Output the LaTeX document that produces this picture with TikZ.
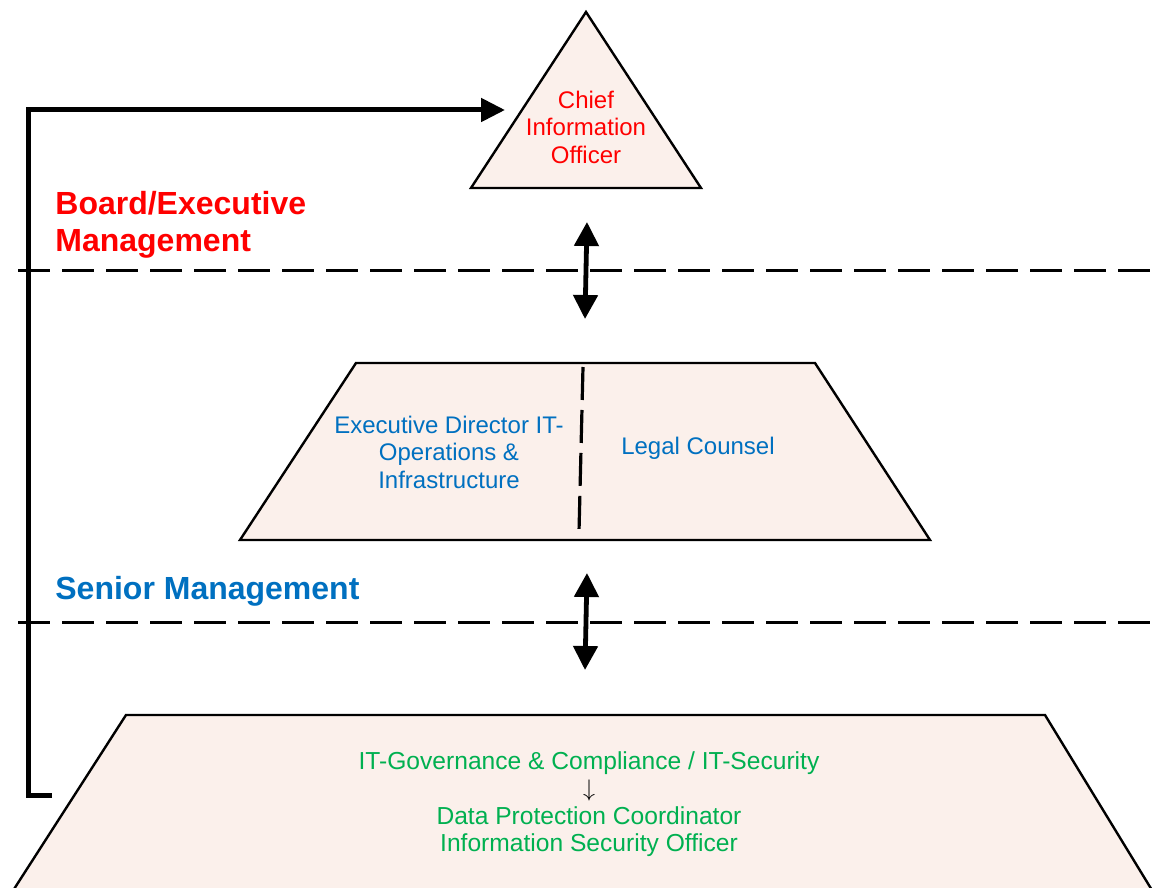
\documentclass[tikz,border=0pt]{standalone}
\usepackage{fontspec}
\setmainfont{Liberation Sans}
\usetikzlibrary{arrows.meta}

\definecolor{boxfill}{RGB}{251,240,235}
\definecolor{boardred}{RGB}{255,0,0}
\definecolor{seniorblue}{RGB}{0,112,192}
\definecolor{staffgreen}{RGB}{0,176,80}

\tikzset{
  tier/.style={draw=black, fill=boxfill, line width=1.2pt, line join=miter},
  sep_line/.style={draw=black, line width=1.5pt, dash pattern=on 16pt off 6pt},
  divider/.style={draw=black, line width=1.6pt, dash pattern=on 16.5pt off 5pt},
  both_way/.style={{Triangle[length=12pt,width=12pt]}-{Triangle[length=12pt,width=12pt]}, line width=2.4pt},
  feedback/.style={-{Triangle[length=12pt,width=11.5pt]}, line width=2.5pt, line join=miter},
  txt/.style={align=center, inner sep=0pt, font=\fontsize{12}{13.75}\selectfont},
  tier_name/.style={anchor=west, align=left, inner sep=0pt, font=\fontsize{16}{18.5}\selectfont\bfseries},
}

\begin{document}
\begin{tikzpicture}[x=0.5pt, y=-0.5pt]
\useasboundingbox (0,0) rectangle (1153,888);

\pgfmathsetmacro\x{586}

% plot the separators
\coordinate (board_sep_l) at (18,271);
\coordinate (board_sep_r) at (1160,271);
\draw[sep_line] (board_sep_l) -- (board_sep_r);
\coordinate (senior_sep_l) at (18,622);
\coordinate (senior_sep_r) at (1160,622);
\draw[sep_line] (senior_sep_l) -- (senior_sep_r);

% plot the top level
\draw[tier] (\x,12) -- (701,188) -- (471,188) -- cycle;
\node[txt, text=boardred] (cio) at (\x,127) {Chief\\Information\\Officer};
\node[tier_name, text=boardred] (board) at (55,225) {Board/Executive\\Management};

% plot the second level
\draw[tier] (356,363) -- (815,363) -- (930,540) -- (240,540) -- cycle;
\coordinate (split_top) at (583,367);
\coordinate (split_bottom) at (579,532);
\draw[divider] (split_top) -- (split_bottom);
\node[txt, text=seniorblue] (it_ops) at (449,452) {Executive Director IT-\\Operations \&\\Infrastructure};
\node[txt, text=seniorblue] (legal) at (698,448) {Legal Counsel};
\node[tier_name, text=seniorblue] (senior) at (55,591) {Senior Management};

% plot the third level
\draw[tier] (126,715) -- (1045,715) -- (1158,900) -- (7,900) -- cycle;
\node[txt, text=staffgreen, font=\fontsize{12.3}{13.75}\selectfont] (it_gov) at (589,804) {IT-Governance \& Compliance / IT-Security\\{\color{black}$\downarrow$}\\Data Protection Coordinator\\Information Security Officer};

% plot the arrows between levels
\coordinate (up_a) at (\x+1,222);
\coordinate (down_a) at (\x-1,319);
\draw[both_way] (up_a) -- (down_a);
\coordinate (up_b) at (\x+1,573);
\coordinate (down_b) at (\x-1,670);
\draw[both_way] (up_b) -- (down_b);

%plot feedback line
\coordinate (gov_out) at (52,795);
\coordinate (cio_in) at (505,110);
\draw[feedback] (gov_out) -- (28,795) -- (28,110) -- (cio_in);

\end{tikzpicture}
\end{document}
